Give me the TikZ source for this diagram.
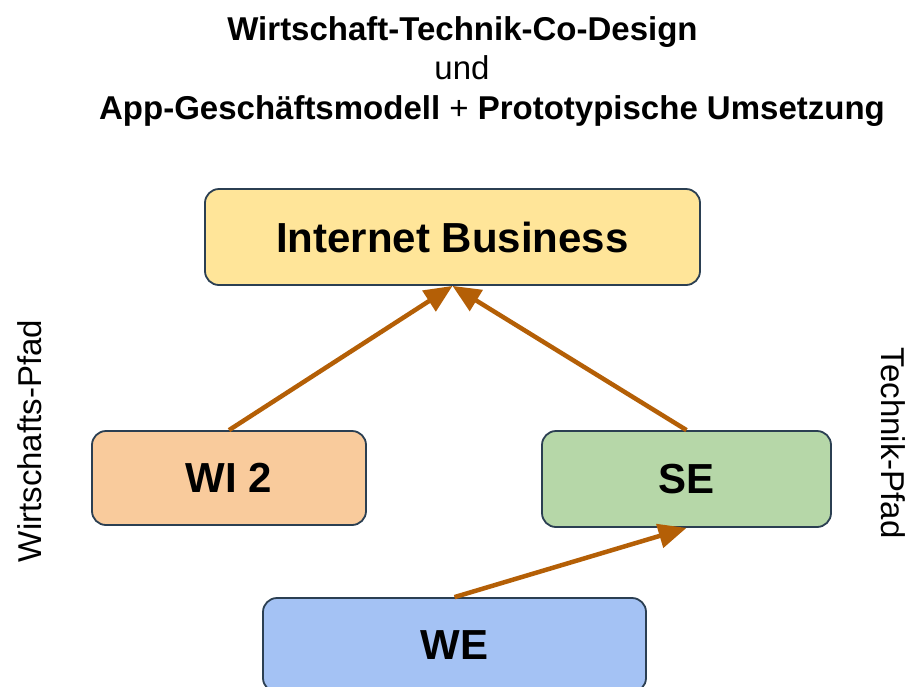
\documentclass[tikz,border=0pt]{standalone}
\usepackage{fontspec}
\setmainfont{Liberation Sans}
\usetikzlibrary{arrows.meta}
\definecolor{ibfill}{HTML}{FFE599}
\definecolor{wifill}{HTML}{F9CB9C}
\definecolor{sefill}{HTML}{B6D7A8}
\definecolor{wefill}{HTML}{A4C2F4}
\definecolor{boxline}{HTML}{2B3F52}
\definecolor{arr}{HTML}{B45F06}
\tikzset{
  box/.style={draw=boxline, line width=1.8pt, rounded corners=14pt, inner sep=0pt,
    font=\fontsize{42}{48}\selectfont\bfseries},
  titletext/.style={inner sep=0pt, anchor=base, font=\fontsize{33}{38}\selectfont\bfseries},
  plaintext/.style={inner sep=0pt, font=\fontsize{33}{38}\selectfont},
  conn/.style={draw=arr, line width=4.5pt, -{Triangle[length=28pt,width=24pt]}}
}
\begin{document}
\begin{tikzpicture}[x=1pt,y=-1pt]
\useasboundingbox (0,0) rectangle (910,686);
\fill[white] (0,0) rectangle (910,686);
\begin{scope}
\clip (0,0) rectangle (910,686);
\node[titletext] (t1) at (462.5,40.5) {Wirtschaft-Technik-Co-Design};
\node[plaintext, anchor=base] (t2) at (462,79) {und};
\node[titletext] (t3) at (492,119) {App-Geschäftsmodell {\mdseries +} Prototypische Umsetzung};

\node[box, fill=ibfill, minimum width=495pt, minimum height=96pt] (ib) at (452.5,237) {Internet Business};
\node[box, fill=wifill, minimum width=274pt, minimum height=94pt] (wi) at (229,478) {WI 2};
\node[box, fill=sefill, minimum width=289pt, minimum height=96pt] (se) at (686.5,479) {SE};
\node[box, fill=wefill, minimum width=383pt, minimum height=94pt] (we) at (454.5,645) {WE};

\node[plaintext, rotate=90] (lw) at (30,441) {Wirtschafts-Pfad};
\node[plaintext, rotate=-90] (lt) at (893,443) {Technik-Pfad};

\draw[conn] (wi.north) -- (ib.south);
\draw[conn] (se.north) -- (ib.south);
\draw[conn] (we.north) -- (se.south);
\end{scope}
\end{tikzpicture}
\end{document}
